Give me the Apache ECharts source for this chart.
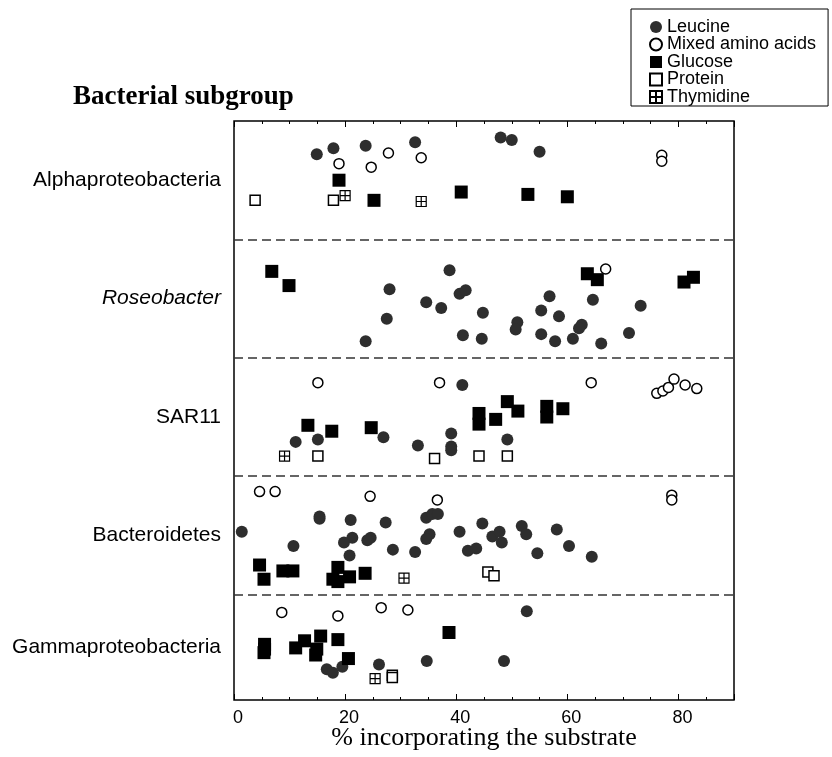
<!DOCTYPE html>
<html>
<head>
<meta charset="utf-8">
<script src="https://cdn.jsdelivr.net/npm/echarts@6/dist/echarts.min.js"></script>
<style>
  html, body { margin: 0; background: #fff; }
  #chart { width: 832px; height: 757px; }
</style>
</head>
<body>
<div id="chart"></div>
<script>
// y is a position inside the group bands: band 0-1 is the bottom group, 4-5 the top one
const groups = ['Gammaproteobacteria', 'Bacteroidetes', 'SAR11', 'Roseobacter', 'Alphaproteobacteria']
const groupLabelAt = [0.56, 1.5, 2.5, 3.5, 4.5]
const separators = [1, 2, 3, 4]

// [% incorporating, band position]
const leucine = [
  // Alphaproteobacteria
  [14.9, 4.72], [17.9, 4.77], [23.7, 4.79], [32.6, 4.82], [48.0, 4.86], [50.0, 4.84], [55.0, 4.74],
  // Roseobacter
  [38.8, 3.74], [28.0, 3.58], [34.6, 3.47], [37.3, 3.42], [40.6, 3.54], [41.7, 3.57], [44.8, 3.38],
  [27.5, 3.33], [23.7, 3.14], [41.2, 3.19], [44.6, 3.16], [51.0, 3.30], [50.7, 3.24], [56.8, 3.52],
  [55.3, 3.40], [58.5, 3.35], [64.6, 3.49], [73.2, 3.44], [62.6, 3.28], [62.1, 3.25], [55.3, 3.20],
  [57.8, 3.14], [61.0, 3.16], [66.1, 3.12], [71.1, 3.21],
  // SAR11
  [41.1, 2.77], [11.1, 2.29], [15.1, 2.31], [26.9, 2.33], [33.1, 2.26], [39.1, 2.36], [39.1, 2.25],
  [39.1, 2.22], [49.2, 2.31],
  // Bacteroidetes
  [1.4, 1.53], [15.4, 1.66], [15.4, 1.64], [10.7, 1.41], [21.0, 1.63], [21.3, 1.48], [19.8, 1.44],
  [20.8, 1.33], [24.6, 1.48], [24.0, 1.46], [27.3, 1.61], [28.6, 1.38], [32.6, 1.36], [34.6, 1.65],
  [35.7, 1.68], [36.7, 1.68], [35.2, 1.51], [34.6, 1.47], [40.6, 1.53], [42.1, 1.37], [43.6, 1.39],
  [44.7, 1.60], [46.5, 1.49], [47.8, 1.53], [48.2, 1.44], [51.8, 1.58], [52.6, 1.51], [58.1, 1.55],
  [54.6, 1.35], [60.3, 1.41], [64.4, 1.32],
  // Gammaproteobacteria
  [52.7, 0.86], [16.7, 0.37], [17.8, 0.34], [19.5, 0.39], [26.1, 0.41], [34.7, 0.44], [48.6, 0.44]
]

const mixedAminoAcids = [
  [18.9, 4.64], [24.7, 4.61], [27.8, 4.73], [33.7, 4.69], [77.0, 4.71], [77.0, 4.66],
  [66.9, 3.75],
  [15.1, 2.79], [37.0, 2.79], [64.3, 2.79], [76.1, 2.70], [77.2, 2.72], [78.2, 2.75], [79.2, 2.82],
  [81.2, 2.77], [83.3, 2.74],
  [4.6, 1.87], [7.4, 1.87], [24.5, 1.83], [36.6, 1.80], [78.8, 1.84], [78.8, 1.80],
  [8.6, 0.85], [18.7, 0.82], [26.5, 0.89], [31.3, 0.87]
]

const glucose = [
  [18.9, 4.50], [25.2, 4.33], [40.9, 4.40], [52.9, 4.38], [60.0, 4.36],
  [6.8, 3.73], [9.9, 3.61], [63.6, 3.71], [65.4, 3.66], [81.0, 3.64], [82.7, 3.68],
  [13.3, 2.43], [17.6, 2.38], [24.7, 2.41], [44.1, 2.53], [44.1, 2.44], [47.1, 2.48], [49.2, 2.63],
  [51.1, 2.55], [56.3, 2.59], [56.3, 2.50], [59.2, 2.57],
  [4.6, 1.25], [5.4, 1.13], [8.8, 1.20], [10.6, 1.20], [17.8, 1.13], [18.7, 1.23], [18.7, 1.11],
  [20.8, 1.15], [23.6, 1.18],
  [5.5, 0.58], [5.5, 0.54], [5.4, 0.51], [11.1, 0.55], [12.7, 0.61], [15.6, 0.65], [14.9, 0.54],
  [14.7, 0.49], [18.7, 0.62], [20.6, 0.46], [38.7, 0.68]
]

const protein = [
  [3.8, 4.33], [17.9, 4.33],
  [15.1, 2.17], [36.1, 2.15], [44.1, 2.17], [49.2, 2.17],
  [45.7, 1.19], [46.8, 1.16],
  [28.5, 0.32], [28.5, 0.30]
]

const thymidine = [
  [20.0, 4.37], [33.7, 4.32],
  [9.1, 2.17],
  [30.6, 1.14],
  [25.4, 0.29]
]

const SANS = '"Liberation Sans", Arial, Helvetica, sans-serif'
const SERIF = '"Liberation Serif", "Times New Roman", serif'
const BOXED_CROSS = 'path://M0,0H10V10H0Z M5,0V10 M0,5H10'

const chart = echarts.init(document.getElementById('chart'))

// major ticks every 20, minor every 5, on bottom and top
function tickAxis (position, interval, length, extra) {
  return Object.assign({
    type: 'value', min: 0, max: 90, interval, position,
    axisLine: { show: false },
    axisTick: { inside: true, length, lineStyle: { color: '#000', width: 1 } },
    axisLabel: { show: false },
    splitLine: { show: false }
  }, extra)
}

chart.setOption({
  animation: false,
  backgroundColor: '#fff',
  title: {
    text: 'Bacterial subgroup', left: 68, top: 79,
    textStyle: { fontFamily: SERIF, fontWeight: 'bold', fontSize: 27, color: '#000' }
  },
  legend: {
    orient: 'vertical', left: 631, top: 9,
    padding: [9, 12, 0, 18],
    borderColor: '#000', borderWidth: 1,
    itemWidth: 12, itemHeight: 12, itemGap: -0.5,
    textStyle: { fontFamily: SANS, fontSize: 18, color: '#000' },
    data: ['Leucine', 'Mixed amino acids', 'Glucose', 'Protein', 'Thymidine']
  },
  grid: {
    left: 234, right: 98, top: 121, bottom: 57,
    containLabel: false,
    outerBoundsMode: 'none',
    show: true, borderColor: '#000', borderWidth: 1.5
  },
  xAxis: [
    tickAxis('bottom', 20, 6, {
      axisLabel: {
        show: true, fontFamily: SANS, fontSize: 18, color: '#000', margin: 9,
        padding: [0, 0, 0, 8],
        formatter: v => (v <= 80 ? String(v) : '')
      },
      name: '% incorporating the substrate',
      nameLocation: 'middle', nameGap: 25, nameMoveOverlap: false,
      nameTextStyle: { fontFamily: SERIF, fontSize: 26, color: '#000' }
    }),
    tickAxis('bottom', 5, 3),
    tickAxis('top', 20, 6),
    tickAxis('top', 5, 3)
  ],
  yAxis: {
    type: 'value', min: 0.11, max: 5,
    axisLine: { show: false },
    axisTick: { show: false },
    splitLine: { show: false },
    axisLabel: {
      customValues: groupLabelAt,
      margin: 13,
      fontFamily: SANS, fontSize: 21, color: '#000',
      formatter: v => {
        const name = groups[Math.floor(v)]
        return name === 'Roseobacter' ? '{it|' + name + '}' : name
      },
      rich: { it: { fontFamily: SANS, fontSize: 21, fontStyle: 'italic', color: '#000' } }
    }
  },
  series: [
    {
      name: 'Leucine', type: 'scatter', data: leucine,
      symbol: 'circle', symbolSize: 12,
      itemStyle: { color: '#2e2e2e', opacity: 1 },
      markLine: {
        silent: true, symbol: 'none', label: { show: false },
        lineStyle: { color: '#333', width: 1.5, type: [9, 5] },
        data: separators.map(v => ({ yAxis: v }))
      }
    },
    {
      name: 'Mixed amino acids', type: 'scatter', data: mixedAminoAcids,
      symbol: 'circle', symbolSize: 10,
      itemStyle: { color: '#fff', borderColor: '#000', borderWidth: 1.5, opacity: 1 }
    },
    {
      name: 'Glucose', type: 'scatter', data: glucose,
      symbol: 'rect', symbolSize: 13,
      itemStyle: { color: '#000', opacity: 1 }
    },
    {
      name: 'Protein', type: 'scatter', data: protein,
      symbol: 'rect', symbolSize: 10,
      itemStyle: { color: '#fff', borderColor: '#000', borderWidth: 1.5, opacity: 1 }
    },
    {
      name: 'Thymidine', type: 'scatter', data: thymidine,
      symbol: BOXED_CROSS, symbolSize: 10,
      itemStyle: { color: '#fff', borderColor: '#000', borderWidth: 1.2, opacity: 1 }
    }
  ]
})
</script>
</body>
</html>
